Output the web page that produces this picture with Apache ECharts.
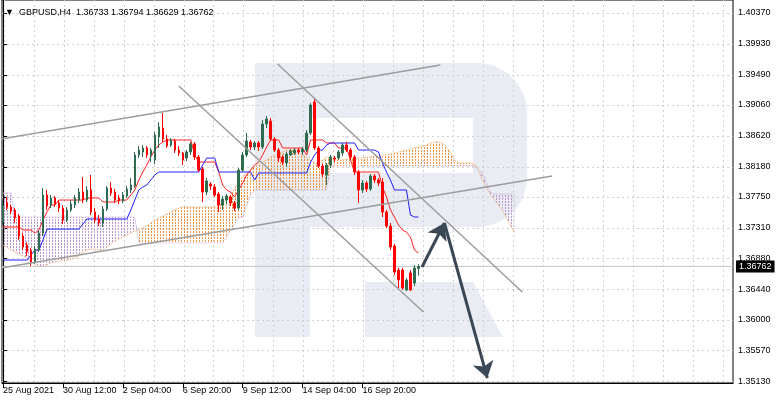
<!DOCTYPE html>
<html><head><meta charset="utf-8">
<script src="https://cdn.jsdelivr.net/npm/echarts@6/dist/echarts.min.js"></script>
<style>html,body{margin:0;padding:0;background:#fff}#c{width:782px;height:403px}</style>
</head><body><div id="c"></div><script>
const symbolName = 'GBPUSD,H4';
const xTickIndex = [0, 15, 30, 45, 60, 75, 90];
const xTickLabels = ['25 Aug 2021', '30 Aug 12:00', '2 Sep 04:00', '6 Sep 20:00', '9 Sep 12:00', '14 Sep 04:00', '16 Sep 20:00'];
const yTicks = [1.40370, 1.39930, 1.39490, 1.39060, 1.38620, 1.38180, 1.37750, 1.37310, 1.36880, 1.36440, 1.36000, 1.35570, 1.35130];
const lastPrice = 1.36762;

// candles: [open, close, low, high], one per 4H bar
const ohlc = [
[1.37394,1.37636,1.37351,1.37707],[1.37664,1.37607,1.37565,1.37750],[1.37607,1.37550,1.37508,1.37636],[1.37565,1.37451,1.37380,1.37593],
[1.37479,1.37195,1.37138,1.37508],[1.37195,1.37038,1.36995,1.37237],[1.37066,1.36967,1.36910,1.37109],[1.36981,1.36824,1.36767,1.37024],
[1.36824,1.37009,1.36796,1.37052],[1.36995,1.37237,1.36967,1.37280],[1.37237,1.37778,1.37195,1.37878],[1.37778,1.37622,1.37565,1.37850],
[1.37636,1.37736,1.37593,1.37778],[1.37736,1.37650,1.37607,1.37764],[1.37664,1.37593,1.37536,1.37707],[1.37593,1.37422,1.37365,1.37636],
[1.37422,1.37565,1.37394,1.37607],[1.37565,1.37650,1.37536,1.37707],[1.37636,1.37736,1.37593,1.37778],[1.37707,1.37821,1.37664,1.37878],
[1.37821,1.37707,1.37664,1.38035],[1.37707,1.37850,1.37679,1.37906],[1.37850,1.37536,1.37494,1.38063],[1.37536,1.37422,1.37380,1.37593],
[1.37437,1.37380,1.37337,1.37494],[1.37380,1.37579,1.37323,1.37622],[1.37579,1.37878,1.37550,1.37906],[1.37878,1.37807,1.37764,1.37963],
[1.37821,1.37707,1.37664,1.37864],[1.37736,1.37693,1.37650,1.37778],[1.37693,1.37778,1.37664,1.37821],[1.37764,1.37864,1.37736,1.37906],
[1.37850,1.37921,1.37807,1.38020],[1.37906,1.38348,1.37878,1.38391],[1.38348,1.38419,1.38305,1.38476],[1.38391,1.38448,1.38319,1.38490],
[1.38448,1.38348,1.38305,1.38476],[1.38348,1.38419,1.38248,1.38448],[1.38277,1.38633,1.38220,1.38675],[1.38604,1.38747,1.38448,1.38818],
[1.38732,1.38576,1.38533,1.38946],[1.38576,1.38476,1.38448,1.38633],[1.38490,1.38562,1.38462,1.38590],[1.38547,1.38419,1.38376,1.38576],
[1.38419,1.38376,1.38334,1.38476],[1.38376,1.38277,1.38206,1.38391],[1.38305,1.38391,1.38262,1.38419],[1.38391,1.38505,1.38348,1.38533],
[1.38505,1.38319,1.38277,1.38533],[1.38319,1.38134,1.38106,1.38348],[1.38149,1.37821,1.37679,1.38177],[1.37821,1.37978,1.37778,1.38020],
[1.37935,1.37906,1.37850,1.37963],[1.37892,1.37778,1.37750,1.37935],[1.37793,1.37636,1.37536,1.37821],[1.37636,1.37721,1.37565,1.37764],
[1.37707,1.37764,1.37650,1.37793],[1.37750,1.37664,1.37622,1.37778],[1.37664,1.37593,1.37550,1.37693],[1.37593,1.38134,1.37565,1.38163],
[1.38134,1.38348,1.38106,1.38391],[1.38348,1.38547,1.38319,1.38661],[1.38533,1.38462,1.38419,1.38562],[1.38462,1.38519,1.38419,1.38547],
[1.38519,1.38462,1.38405,1.38547],[1.38462,1.38789,1.38433,1.38846],[1.38789,1.38861,1.38732,1.38903],[1.38832,1.38576,1.38547,1.38875],
[1.38576,1.38419,1.38391,1.38604],[1.38419,1.38305,1.38248,1.38448],[1.38319,1.38248,1.38206,1.38348],[1.38234,1.38362,1.38177,1.38391],
[1.38348,1.38405,1.38334,1.38433],[1.38376,1.38419,1.38348,1.38448],[1.38419,1.38391,1.38362,1.38448],[1.38391,1.38433,1.38348,1.38462],
[1.38419,1.38661,1.38391,1.38704],[1.38661,1.39060,1.38633,1.39088],[1.39103,1.38448,1.38419,1.39160],[1.38448,1.38191,1.38163,1.38476],
[1.38191,1.38077,1.38035,1.38220],[1.38063,1.38206,1.37921,1.38234],[1.38206,1.38319,1.38163,1.38348],[1.38305,1.38291,1.38248,1.38334],
[1.38305,1.38391,1.38277,1.38419],[1.38376,1.38490,1.38334,1.38519],[1.38490,1.38419,1.38391,1.38533],[1.38419,1.38319,1.38277,1.38448],
[1.38319,1.38106,1.38063,1.38348],[1.38106,1.37850,1.37664,1.38134],[1.37850,1.37949,1.37807,1.37992],[1.37949,1.37864,1.37821,1.37978],
[1.37864,1.38049,1.37835,1.38077],[1.38049,1.37992,1.37949,1.38077],[1.37992,1.37949,1.37906,1.38020],[1.37963,1.37536,1.37465,1.38020],
[1.37536,1.37337,1.37308,1.37565],[1.37337,1.37038,1.36995,1.37380],[1.37052,1.36682,1.36639,1.37081],[1.36710,1.36568,1.36454,1.36739],
[1.36710,1.36454,1.36426,1.36739],[1.36426,1.36568,1.36411,1.36596],[1.36668,1.36426,1.36411,1.36710],[1.36525,1.36739,1.36482,1.36782],
[1.36733,1.36762,1.36629,1.36794]
];

const tenkan = [
1.37323,1.37323,1.37323,1.37323,1.37323,1.37280,1.37280,1.37280,1.37237,1.37280,
1.37422,1.37536,1.37636,1.37636,1.37707,1.37707,1.37707,1.37707,1.37707,1.37707,
1.37707,1.37736,1.37736,1.37736,1.37736,1.37679,1.37679,1.37679,1.37679,1.37707,
1.37707,1.37707,1.37778,1.37850,1.37992,1.38106,1.38206,1.38319,1.38419,1.38490,
1.38533,1.38562,1.38562,1.38562,1.38562,1.38562,1.38562,1.38562,1.38348,1.38248,
1.38248,1.38248,1.38248,1.38248,1.38106,1.37921,1.37850,1.37821,1.37750,1.37850,
1.37949,1.38063,1.38134,1.38206,1.38248,1.38348,1.38462,1.38562,1.38562,1.38562,
1.38448,1.38448,1.38448,1.38448,1.38448,1.38448,1.38348,1.38562,1.38562,1.38562,
1.38562,1.38519,1.38519,1.38519,1.38448,1.38448,1.38448,1.38277,1.38106,1.38106,
1.38106,1.38106,1.38106,1.38106,1.38106,1.37892,1.37750,1.37565,1.37465,1.37351,
1.37280,1.37251,1.37180,1.36995,1.36952
];

const kijun = [
1.36853,1.36853,1.36853,1.36853,1.36853,1.36853,1.36853,1.36924,1.36995,1.36995,
1.37138,1.37294,1.37294,1.37294,1.37294,1.37294,1.37294,1.37294,1.37294,1.37294,
1.37365,1.37437,1.37437,1.37437,1.37437,1.37437,1.37437,1.37437,1.37437,1.37437,
1.37437,1.37437,1.37565,1.37707,1.37850,1.37892,1.37921,1.37992,1.38063,1.38106,
1.38106,1.38106,1.38106,1.38106,1.38106,1.38106,1.38106,1.38106,1.38106,1.38106,
1.38206,1.38305,1.38305,1.38305,1.38106,1.38106,1.38106,1.38106,1.38106,1.38106,
1.38106,1.38106,1.38106,1.37992,1.38092,1.38092,1.38092,1.38092,1.38092,1.38092,
1.38092,1.38092,1.38092,1.38092,1.38092,1.38092,1.38092,1.38248,1.38348,1.38419,
1.38419,1.38490,1.38519,1.38519,1.38519,1.38519,1.38519,1.38519,1.38519,1.38419,
1.38419,1.38419,1.38419,1.38419,1.38391,1.38234,1.38106,1.37992,1.37850,1.37850,
1.37850,1.37850,1.37494,1.37465,1.37465
];

// Senkou spans (already shifted 26 bars forward)
const spanA = [
1.37066,1.37038,1.36995,1.36967,1.36938,1.36910,1.36881,1.36824,1.36796,1.36767,
1.36767,1.36782,1.36810,1.36824,1.36838,1.36853,1.36853,1.36867,1.36881,1.36910,
1.36967,1.36995,1.37009,1.37009,1.36995,1.36995,1.37038,1.37081,1.37123,1.37152,
1.37180,1.37209,1.37237,1.37266,1.37280,1.37308,1.37337,1.37380,1.37422,1.37451,
1.37479,1.37508,1.37536,1.37565,1.37593,1.37607,1.37607,1.37607,1.37607,1.37607,
1.37607,1.37607,1.37607,1.37607,1.37636,1.37664,1.37721,1.37778,1.37878,1.37963,
1.38035,1.38092,1.38134,1.38177,1.38220,1.38248,1.38277,1.38319,1.38348,1.38376,
1.38391,1.38419,1.38419,1.38405,1.38376,1.38348,1.38319,1.38277,1.38234,1.38234,
1.38277,1.38319,1.38305,1.38277,1.38277,1.38277,1.38291,1.38291,1.38305,1.38305,
1.38305,1.38319,1.38319,1.38334,1.38334,1.38348,1.38348,1.38362,1.38376,1.38391,
1.38405,1.38419,1.38433,1.38448,1.38462,1.38476,1.38490,1.38519,1.38533,1.38533,
1.38519,1.38462,1.38391,1.38277,1.38234,1.38234,1.38234,1.38234,1.38220,1.38134,
1.37992,1.37892,1.37778,1.37721,1.37636,1.37565,1.37451,1.37351,1.37237
];
const spanB = [
1.37807,1.37807,1.37807,1.37465,1.37465,1.37465,1.37465,1.37465,1.37465,1.37465,
1.37465,1.37465,1.37465,1.37465,1.37465,1.37465,1.37465,1.37465,1.37465,1.37465,
1.37465,1.37465,1.37465,1.37465,1.37465,1.37465,1.37465,1.37465,1.37465,1.37465,
1.37465,1.37465,1.37465,1.37465,1.37095,1.37095,1.37095,1.37095,1.37095,1.37095,
1.37095,1.37095,1.37095,1.37095,1.37095,1.37095,1.37095,1.37095,1.37095,1.37095,
1.37095,1.37095,1.37095,1.37095,1.37095,1.37095,1.37180,1.37280,1.37365,1.37451,
1.37465,1.37636,1.37778,1.37850,1.37850,1.37850,1.37850,1.37850,1.37850,1.37850,
1.37850,1.37850,1.37850,1.37850,1.37850,1.37850,1.37850,1.37850,1.37850,1.37850,
1.37850,1.37850,1.38191,1.38191,1.38191,1.38191,1.38191,1.38191,1.38191,1.38191,
1.38191,1.38191,1.38191,1.38191,1.38191,1.38191,1.38191,1.38191,1.38191,1.38191,
1.38191,1.38191,1.38191,1.38191,1.38191,1.38191,1.38191,1.38191,1.38191,1.38191,
1.38191,1.38191,1.38191,1.38191,1.38191,1.38191,1.38191,1.38191,1.38191,1.38134,
1.38092,1.37963,1.37821,1.37793,1.37793,1.37793,1.37793,1.37793,1.37793
];

// hand-drawn trend lines: [bar index, price] end points
const trendLines = [
  [[-0.5, 1.38576], [109.5, 1.39630]],
  [[-0.5, 1.36739], [137.5, 1.38049]],
  [[44.0, 1.39330], [105.25, 1.36112]],
  [[68.75, 1.39644], [130.0, 1.36397]]
];
// forecast arrows: [bar index, price]
const arrows = [
  [[104.9, 1.36753], [110.5, 1.37380]],
  [[110.5, 1.37380], [121.25, 1.35172]]
];

const FONT = '"Liberation Sans", Arial, "DejaVu Sans", sans-serif';
const xMin = -0.25, xMax = 182.75;
const yMin = 1.35102, yMax = 1.40555;
const gridX = [];
for (let v = 0.25; v < xMax; v += 7.5) gridX.push(v);
const last = ohlc[ohlc.length - 1];
const titleText = '\u25BC  ' + symbolName + '  ' + [last[0], last[3], last[2], last[1]].map(v => v.toFixed(5)).join(' ');

const UP_C = '#f4a460', DN_C = '#c9a8d8';
const UP_DOT = '#f0913e', DN_DOT = '#bb94d2';
// dotted hatch texture: vertical dotted columns every 3 px
function hatchPattern(color) {
  const c = document.createElement('canvas');
  c.width = 3; c.height = 3;
  const g = c.getContext('2d');
  g.fillStyle = color;
  g.fillRect(1, 0, 1, 2);
  return {image: c, repeat: 'repeat'};
}
const UP_PAT = hatchPattern(UP_DOT), DN_PAT = hatchPattern(DN_DOT);
// one cloud segment between bar i and bar i+1: [i, A_i, B_i, A_i+1, B_i+1]
const cloudSegs = [];
for (let i = 0; i < spanA.length - 1; i++) cloudSegs.push([i, spanA[i], spanB[i], spanA[i + 1], spanB[i + 1]]);

const chart = echarts.init(document.getElementById('c'), null, {renderer: 'canvas'});
const gridLine = {show: true, lineStyle: {color: '#d0d0d0', type: [2, 3], width: 1}};
const WM = '#e9edf3';
const option = {
  animation: false,
  backgroundColor: '#ffffff',
  textStyle: {fontFamily: FONT},
  title: {text: titleText, left: 0, top: 3, textStyle: {fontSize: 9, fontWeight: 'normal', color: '#000', fontFamily: FONT}},
  graphic: {elements: [
    {type: 'rect', z: -10, silent: true, shape: {x: 255, y: 63, width: 272, height: 164, r: [0, 50, 50, 0]}, style: {fill: WM}},
    {type: 'rect', z: -9, silent: true, shape: {x: 310, y: 118, width: 163, height: 55}, style: {fill: '#ffffff'}},
    {type: 'rect', z: -10, silent: true, shape: {x: 255, y: 63, width: 55, height: 274}, style: {fill: WM}},
    {type: 'polygon', z: -10, silent: true, shape: {points: [[365, 282], [473, 282], [503, 337], [365, 337]]}, style: {fill: WM}}
  ]},
  grid: {left: 1, right: 49, top: 0, bottom: 20, show: true, borderColor: '#000', borderWidth: 1, backgroundColor: 'transparent'},
  xAxis: [
    {type: 'value', min: xMin, max: xMax,
     axisLine: {show: true, lineStyle: {color: '#000'}},
     axisTick: {show: false, customValues: gridX},
     axisLabel: {show: false},
     splitLine: gridLine},
    {type: 'value', min: xMin, max: xMax, position: 'bottom',
     axisLine: {show: false},
     axisTick: {show: true, customValues: xTickIndex, length: 5, lineStyle: {color: '#000'}},
     axisLabel: {customValues: xTickIndex, formatter: v => xTickLabels[xTickIndex.indexOf(v)] || '', align: 'left', margin: 3, fontSize: 9, color: '#000', fontFamily: FONT},
     splitLine: {show: false}}
  ],
  yAxis: {type: 'value', position: 'right', min: yMin, max: yMax,
    axisLine: {show: true, lineStyle: {color: '#000'}},
    axisTick: {show: true, customValues: yTicks, length: 4, lineStyle: {color: '#000'}},
    axisLabel: {customValues: yTicks, formatter: v => v.toFixed(5), margin: 5, fontSize: 9, color: '#000', fontFamily: FONT},
    splitLine: gridLine},
  series: [
    {type: 'custom', name: 'cloud', z: 1, silent: true, clip: true,
     data: cloudSegs, encode: {x: 0, y: [1, 2]},
     renderItem: (params, api) => {
       const i = api.value(0), a0 = api.value(1), b0 = api.value(2), a1 = api.value(3), b1 = api.value(4);
       const pts = [api.coord([i, a0]), api.coord([i + 1, a1]), api.coord([i + 1, b1]), api.coord([i, b0])];
       const up = (a0 - b0) + (a1 - b1) >= 0;
       return {type: 'polygon', shape: {points: pts},
         style: {fill: up ? UP_PAT : DN_PAT, stroke: null, lineWidth: 0}};
     }},
    {type: 'line', name: 'Senkou A', z: 2, silent: true, showSymbol: false,
     data: spanA.map((v, i) => [i, v]), lineStyle: {color: UP_C, width: 1, type: 'dotted'}},
    {type: 'line', name: 'Senkou B', z: 2, silent: true, showSymbol: false,
     data: spanB.map((v, i) => [i, v]), lineStyle: {color: DN_C, width: 1, type: 'dotted'}},
    {type: 'line', name: 'Tenkan', z: 3, silent: true, showSymbol: false,
     data: tenkan.map((v, i) => [i, v]), lineStyle: {color: '#ff2020', width: 1}},
    {type: 'line', name: 'Kijun', z: 3, silent: true, showSymbol: false,
     data: kijun.map((v, i) => [i, v]), lineStyle: {color: '#1f1fff', width: 1}},
    {type: 'candlestick', name: symbolName, z: 4, silent: true, barWidth: 2,
     data: ohlc.map((d, i) => [i, d[0], d[1], d[2], d[3]]),
     encode: {x: 0, y: [1, 2, 3, 4]},
     itemStyle: {color: '#2f6b4f', color0: '#ff0000', borderColor: '#2f6b4f', borderColor0: '#ff0000', borderWidth: 1}},
    ...trendLines.map((pts, k) => ({type: 'line', name: 'trend' + k, z: 5, silent: true, showSymbol: false,
      data: pts, lineStyle: {color: '#9c9c9c', width: 1.5}})),
    {type: 'line', name: 'price', z: 3, silent: true, showSymbol: false,
     data: [[xMin, lastPrice], [xMax, lastPrice]],
     lineStyle: {color: '#c4c4c4', width: 1},
     endLabel: {show: true, distance: 3, formatter: lastPrice.toFixed(5),
       backgroundColor: '#000', color: '#fff', fontSize: 9, padding: [2, 3, 1, 3], fontFamily: FONT}},
    {type: 'line', name: 'arrows', z: 6, silent: true, data: [],
     markLine: {silent: true, animation: false, symbol: ['none', 'arrow'], symbolSize: 16,
       lineStyle: {color: '#3a4754', width: 3, type: 'solid'}, label: {show: false},
       data: arrows.map(a => [{coord: a[0]}, {coord: a[1]}])}}
  ]
};
chart.setOption(option);
</script></body></html>
